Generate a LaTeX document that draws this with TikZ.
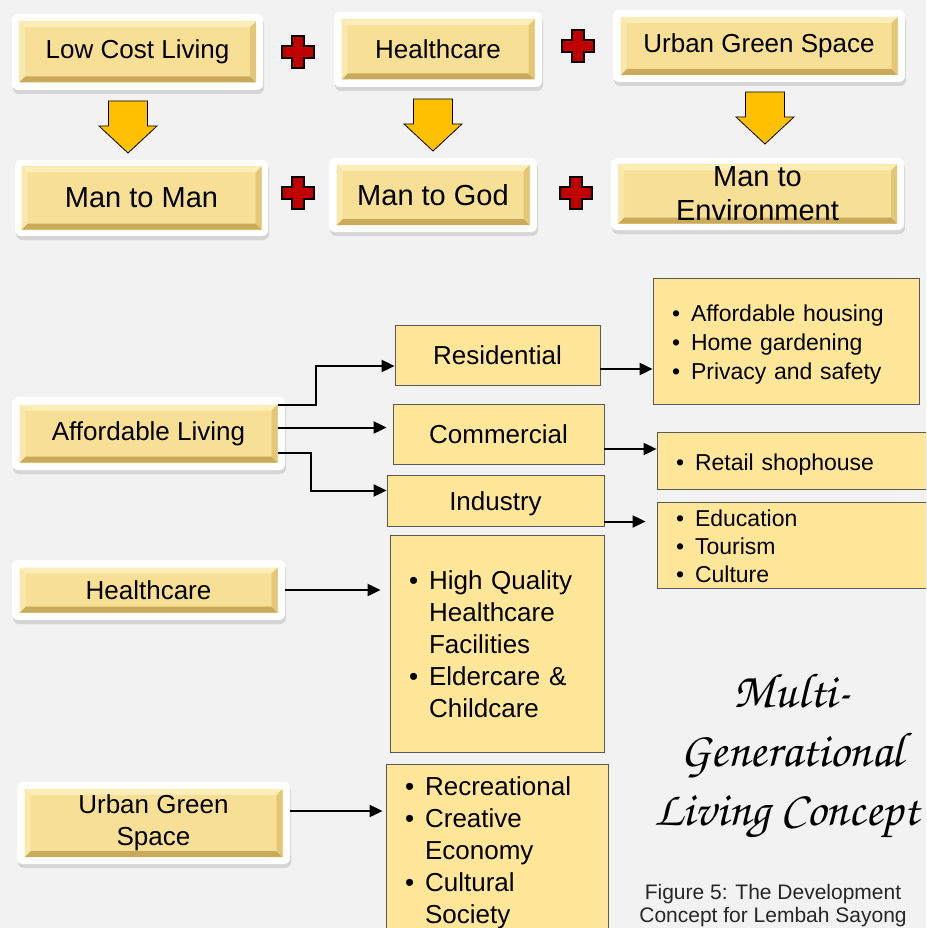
\documentclass[tikz,border=0pt]{standalone}
\usepackage[T1]{fontenc}
\usepackage{fontspec}
\setmainfont{Liberation Sans}
\usetikzlibrary{arrows.meta,positioning,calc,shadows}

\definecolor{bgcol}{HTML}{F2F2F2}
\definecolor{goldface}{HTML}{F7DF95}
\definecolor{goldlight}{HTML}{FCEDB9}
\definecolor{golddark}{HTML}{C9AA5A}
\definecolor{goldside}{HTML}{E3C777}
\definecolor{listfill}{HTML}{FFE699}
\definecolor{listline}{HTML}{595959}
\definecolor{arrowgold}{HTML}{FFC000}
\definecolor{crossred}{HTML}{C00000}

\newcommand\txtbig{\fontsize{29}{34}\selectfont}
\newcommand\txtmid{\fontsize{26}{32}\selectfont}
\newcommand\txtsmall{\fontsize{23}{29}\selectfont}
\newcommand\scripttxt{\fontencoding{T1}\fontfamily{pzc}\fontseries{mb}\fontshape{it}\fontsize{49}{56}\selectfont}
% bullet list, lowered a little inside its box
\newcommand\bullist[1]{\raisebox{-4pt}[\height][\depth]{\begin{tabular}{@{}l@{\hspace{11pt}}l@{}}#1\end{tabular}}}

\begin{document}
\begin{tikzpicture}[x=1pt,y=-1pt,
    frame/.style={fill=white, rounded corners=6pt, inner sep=0pt,
      drop shadow={opacity=0.25, shadow xshift=1pt, shadow yshift=-4pt}},
    gold/.style={fill=goldface, inner sep=0pt, align=center,
      path picture={
        \fill[goldlight] (path picture bounding box.north west) -- (path picture bounding box.north east)
          -- ([xshift=-6pt,yshift=-6pt]path picture bounding box.north east) -- ([xshift=6pt,yshift=-6pt]path picture bounding box.north west) -- cycle;
        \fill[golddark] (path picture bounding box.south west) -- (path picture bounding box.south east)
          -- ([xshift=-6pt,yshift=6pt]path picture bounding box.south east) -- ([xshift=6pt,yshift=6pt]path picture bounding box.south west) -- cycle;
        \fill[goldside] (path picture bounding box.north east) -- (path picture bounding box.south east)
          -- ([xshift=-6pt,yshift=6pt]path picture bounding box.south east) -- ([xshift=-6pt,yshift=-6pt]path picture bounding box.north east) -- cycle;
        \fill[goldlight!60!goldface] (path picture bounding box.north west) -- (path picture bounding box.south west)
          -- ([xshift=6pt,yshift=6pt]path picture bounding box.south west) -- ([xshift=6pt,yshift=-6pt]path picture bounding box.north west) -- cycle;
      }},
    namebox/.style={fill=listfill, draw=listline, line width=0.8pt, inner sep=0pt, align=center, font=\txtmid},
    listbox/.style={fill=listfill, draw=listline, line width=0.8pt, inner xsep=19pt, inner ysep=0pt, align=left},
    conn/.style={-{Triangle[length=13pt,width=12pt]}, line width=2pt},
    plusmark/.pic={\draw[fill=crossred, line width=1.5pt] (-6,-16) -- (6,-16) -- (6,-6) -- (16,-6) -- (16,6) -- (6,6)
      -- (6,16) -- (-6,16) -- (-6,6) -- (-16,6) -- (-16,-6) -- (-6,-6) -- cycle;},
    downarrow/.pic={\draw[fill=arrowgold, line width=0.8pt] (-19.5,0) -- (19.5,0) -- (19.5,25) -- (29,25)
      -- (0,52) -- (-29,25) -- (-19.5,25) -- cycle;}
  ]
  \clip (0,0) rectangle (926,928);
  \fill[bgcol] (0,0) rectangle (926,928);

  % three values
  \node[frame, minimum width=251pt, minimum height=76pt] (lcf) at (137.5,52) {};
  \node[gold, minimum width=237pt, minimum height=61pt, font=\txtmid] (lc) at (lcf) {Low Cost Living};
  \node[frame, minimum width=208pt, minimum height=75pt] (hcf) at (438,49.5) {};
  \node[gold, minimum width=193pt, minimum height=60pt, font=\txtmid] (hc) at (hcf) {Healthcare};
  \node[frame, minimum width=292pt, minimum height=72pt] (ugf) at (759,46) {};
  \node[gold, minimum width=277pt, minimum height=58pt, font=\txtmid] (ug) at (ugf) {Urban Green Space};

  % three relations
  \node[frame, minimum width=253pt, minimum height=76pt] (mmf) at (141.5,198) {};
  \node[gold, minimum width=240pt, minimum height=63pt, font=\txtbig] (mm) at (mmf) {Man to Man};
  \node[frame, minimum width=208pt, minimum height=74pt] (mgf) at (433,195) {};
  \node[gold, minimum width=193pt, minimum height=60pt, font=\txtbig] (mg) at (mgf) {Man to God};
  \node[frame, minimum width=293pt, minimum height=72pt] (mef) at (757.5,194) {};
  \node[gold, minimum width=279pt, minimum height=59pt, font=\txtbig] (me) at (mef) {Man to\\Environment};

  \pic at (298,52) {plusmark};
  \pic at (578,46) {plusmark};
  \pic at (298,193) {plusmark};
  \pic at (576,193) {plusmark};
  \pic at (128,101) {downarrow};
  \pic at (433,99) {downarrow};
  \pic at (765,92) {downarrow};

  % affordable living
  \node[frame, minimum width=273pt, minimum height=73pt] (alf) at (148.5,433.5) {};
  \node[gold, minimum width=258pt, minimum height=58pt, font=\txtmid] (al) at (alf) {Affordable Living};
  \node[namebox, minimum width=205pt, minimum height=60pt] (res) at (497.5,355) {Residential};
  \node[namebox, minimum width=211pt, minimum height=60pt] (com) at (498.5,434) {Commercial};
  \node[namebox, minimum width=217pt, minimum height=51pt] (ind) at (495.5,500.5) {\raisebox{-3pt}[\height][\depth]{Industry}};
  \node[listbox, text width=228pt, minimum height=126pt, font=\txtsmall] (resl) at (786,341)
    {\bullist{\textbullet & Affordable housing\\ \textbullet & Home gardening\\ \textbullet & Privacy and safety}};
  \node[listbox, text width=231pt, minimum height=57pt, font=\txtsmall] (coml) at (791.5,460.5)
    {\bullist{\textbullet & Retail shophouse}};
  \node[listbox, text width=231pt, minimum height=86pt, font=\txtsmall] (indl) at (791.5,545)
    {\bullist{\textbullet & Education\\[-1pt] \textbullet & Tourism\\[-1pt] \textbullet & Culture}};

  \draw[conn] ([yshift=29pt]al.east) -- ++(38,0) |- ([yshift=-11pt]res.west);
  \draw[conn, shorten >=6pt] ([yshift=6pt]al.east) -- ([yshift=6pt]al.east -| com.west);
  \draw[conn] ([yshift=-19pt]al.east) -- ++(33,0) |- ([yshift=10pt]ind.west);
  \draw[conn] ([yshift=-14pt]res.east) -- ([yshift=-14pt]res.east -| resl.west);
  \draw[conn] ([yshift=-15pt]com.east) -- ([yshift=-15pt]com.east -| coml.west);
  \draw[conn, shorten >=11pt] ([yshift=-21pt]ind.east) -- ([yshift=-21pt]ind.east -| indl.west);

  % healthcare
  \node[frame, minimum width=273pt, minimum height=60pt] (hlf) at (148.5,590) {};
  \node[gold, minimum width=258pt, minimum height=45pt, font=\txtmid] (hl) at (hlf) {Healthcare};
  \node[listbox, text width=176pt, minimum height=217pt, font=\txtmid] (hll) at (497,643.5)
    {\bullist{\textbullet & High Quality\\ & Healthcare\\ & Facilities\\ \textbullet & Eldercare \&\\ & Childcare}};
  \draw[conn, shorten >=9pt] (hlf.east) -- (hlf.east -| hll.west);

  % urban green space
  \node[frame, minimum width=273pt, minimum height=82pt] (gsf) at (153.5,823) {};
  \node[gold, minimum width=258pt, minimum height=68pt, font=\txtmid] (gs) at (gsf) {Urban Green\\Space};
  \node[listbox, text width=184pt, minimum height=171pt, font=\txtmid] (gsl) at (497,849.5)
    {\bullist{\textbullet & Recreational\\ \textbullet & Creative\\ & Economy\\ \textbullet & Cultural\\ & Society}};
  \draw[conn, shorten >=3pt] ([yshift=12pt]gsf.east) -- ([yshift=12pt]gsf.east -| gsl.west);

  % title and caption
  \node[font=\scripttxt] (t1) at (792,690) {Multi-};
  \node[font=\scripttxt] (t2) at (792,755) {Generational};
  \node[font=\scripttxt, anchor=west] (t3) at (651,818) {Living Concept};
  \node[font=\fontsize{21}{23}\selectfont, text=black!85, align=center] (cap) at (773,906)
    {Figure 5: The Development\\Concept for Lembah Sayong};
\end{tikzpicture}
\end{document}
